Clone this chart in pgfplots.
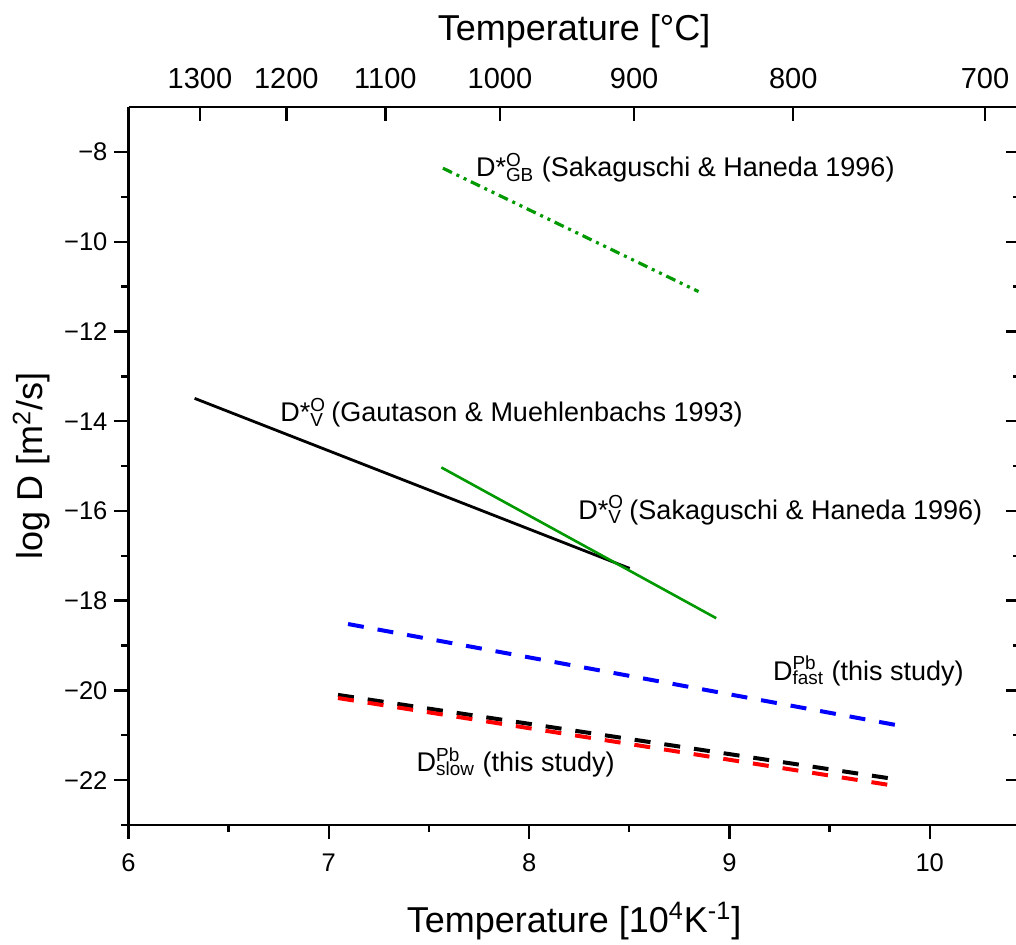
\documentclass[border=0pt]{standalone}
\usepackage{fontspec}
\setmainfont{Liberation Sans}
\usepackage{pgfplots}
\pgfplotsset{compat=1.18}
\definecolor{dgreen}{RGB}{0,153,0}
\newcommand{\supsub}[2]{\rlap{\textsuperscript{#1}}\textsubscript{#2}}
\newcommand{\annfont}{\fontsize{13.5}{16}\selectfont}
\begin{document}
\begin{tikzpicture}
\pgfplotsset{
  base/.style={
    scale only axis, width=445.67pt, height=358.9pt,
    xmin=6, xmax=10.45, ymin=-23, ymax=-7,
    axis line style={line width=1.2pt, -},
    major tick length=7pt, minor tick length=3.5pt,
    every tick/.style={line width=1.2pt, black},
    clip=false,
  }
}
% right axis (inward ticks)
\begin{axis}[base, axis y line*=right, hide x axis,
  ytick={-22,-20,...,-8}, minor ytick={-21,-19,...,-9},
  yticklabels={}, tick align=inside, ytick pos=right]
\end{axis}
% top axis (Celsius)
\begin{axis}[base, axis x line*=top, hide y axis,
  xtick={6.3567,6.7882,7.2825,7.8545,8.5241,9.3184,10.2759},
  xticklabels={1300,1200,1100,1000,900,800,700},
  tick align=inside, xtick pos=right, xticklabel pos=right,
  xticklabel style={font=\fontsize{14.5}{17}\selectfont, yshift=5.5pt}]
\end{axis}
% main axis
\begin{axis}[base, axis x line*=bottom, axis y line*=left,
  tick align=outside, xtick pos=left, ytick pos=left,
  xticklabel pos=left, yticklabel pos=left,
  xtick={6,7,8,9,10}, xticklabels={6,7,8,9,10},
  minor xtick={6.5,7.5,8.5,9.5},
  ytick={-22,-20,-18,-16,-14,-12,-10,-8},
  yticklabels={−22,−20,−18,−16,−14,−12,−10,−8},
  minor ytick={-23,-21,-19,-17,-15,-13,-11,-9},
  tick label style={font=\fontsize{12.75}{15}\selectfont},
  xticklabel style={yshift=-4pt}]
\addplot[dgreen, line width=1.6pt, dash pattern=on 5pt off 2.5pt on 1.5pt off 2.5pt on 1.5pt off 2.5pt] coordinates {(7.57,-8.36) (8.846,-11.11)};
\addplot[black, line width=1.4pt] coordinates {(6.33,-13.49) (8.502,-17.28)};
\addplot[dgreen, line width=1.3pt] coordinates {(7.562,-15.03) (8.934,-18.39)};
\addplot[blue, line width=2pt, dash pattern=on 8pt off 7pt] coordinates {(7.096,-18.52) (9.867,-20.80)};
\addplot[black, line width=2pt, dash pattern=on 8pt off 7pt] coordinates {(7.046,-20.10) (9.83,-21.98)};
\addplot[red, line width=2pt, dash pattern=on 8pt off 7pt] coordinates {(7.046,-20.17) (9.83,-22.13)};
\node[anchor=base west, inner sep=0pt, font=\annfont] at (axis cs:7.733,-8.55) {D*\supsub{O}{GB} (Sakaguschi \& Haneda 1996)};
\node[anchor=base west, inner sep=0pt, font=\annfont] at (axis cs:6.756,-14.01) {D*\supsub{O}{V} (Gautason \& Muehlenbachs 1993)};
\node[anchor=base west, inner sep=0pt, font=\annfont] at (axis cs:8.244,-16.18) {D*\supsub{O}{V} (Sakaguschi \& Haneda 1996)};
\node[anchor=base west, inner sep=0pt, font=\annfont] at (axis cs:9.216,-19.77) {D\supsub{Pb}{fast} (this study)};
\node[anchor=base west, inner sep=0pt, font=\annfont] at (axis cs:7.437,-21.81) {D\supsub{Pb}{slow} (this study)};
\coordinate (sw) at (rel axis cs:0,0);
\end{axis}
\node[anchor=base, inner sep=0pt, font=\fontsize{18}{21}\selectfont] at ([shift={(222.8pt,-53.5pt)}]sw) {Temperature [10\textsuperscript{4}K\textsuperscript{-1}]};
\node[anchor=base, inner sep=0pt, font=\fontsize{18}{21}\selectfont] at ([shift={(222.8pt,392.4pt)}]sw) {Temperature [°C]};
\node[anchor=base, rotate=90, inner sep=0pt, font=\fontsize{18}{21}\selectfont] at ([shift={(-42.75pt,179.45pt)}]sw) {log D [m\textsuperscript{2}/s]};
\pgfresetboundingbox
\path[use as bounding box] ([shift={(-64.25pt,-59.5pt)}]sw) rectangle ([shift={(443.75pt,412.5pt)}]sw);
\end{tikzpicture}
\end{document}
